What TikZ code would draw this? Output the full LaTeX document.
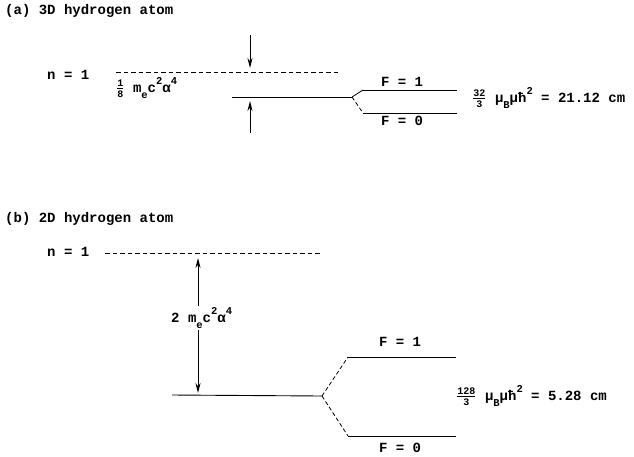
\documentclass[tikz,border=0pt]{standalone}
\usepackage{amsmath}
\usepackage{fontspec}
\setmainfont{Liberation Mono}[BoldFont={Liberation Mono Bold}]
\usetikzlibrary{arrows.meta}
\newcommand\sps[1]{\raisebox{0.55em}{\fontsize{10.5}{11}\selectfont #1}}
\newcommand\sbs[1]{\raisebox{-0.45em}{\fontsize{10.5}{11}\selectfont #1}}
\newcommand\frc[2]{$\genfrac{}{}{0.6pt}{}{\mbox{\fontsize{10}{10}\selectfont\bfseries #1}}{\mbox{\fontsize{10}{10}\selectfont\bfseries #2}}$}
\begin{document}
\begin{tikzpicture}[x=1pt,y=-1pt,
  txt/.style={inner sep=0pt,font=\fontsize{14}{16}\selectfont\bfseries},
  level/.style={line width=0.9pt},
  dlevel/.style={line width=0.9pt,dash pattern=on 4.5pt off 3pt},
  split/.style={line width=0.8pt,dash pattern=on 4pt off 2.5pt},
  arr/.style={line width=1pt,-{Stealth[length=10pt,width=5pt]}},
  darr/.style={line width=1pt,{Stealth[length=10pt,width=5pt]}-{Stealth[length=10pt,width=5pt]}}]
\useasboundingbox (0,0) rectangle (634,456);
% ---------- (a) ----------
\node[txt,anchor=west] (ta) at (5,11) {(a) 3D hydrogen atom};
\node[txt,anchor=west] (na) at (47,75) {n = 1};
\coordinate (a1) at (116,72); \coordinate (a2) at (340,72);
\draw[dlevel] (a1) -- (a2);
\node[txt,anchor=west] (la) at (116,88) {\frc{1}{8} m\sbs{e}c\sps{2}α\sps{4}};
\coordinate (g1) at (232,97); \coordinate (gs) at (352,97);
\draw[level] (g1) -- (gs);
\coordinate (ar1s) at (250,35); \coordinate (ar1e) at (250,68);
\coordinate (ar2s) at (250,133); \coordinate (ar2e) at (250,101);
\draw[arr] (ar1s) -- (ar1e);
\draw[arr] (ar2s) -- (ar2e);
\coordinate (f1a) at (363,90); \coordinate (f1b) at (457,90);
\coordinate (f0a) at (363,113); \coordinate (f0b) at (457,113);
\draw[line width=0.8pt] (gs) -- (f1a);
\draw[split] (gs) -- (f0a);
\draw[level] (f1a) -- (f1b);
\draw[level] (f0a) -- (f0b);
\node[txt] (F1a) at (402,82) {F = 1};
\node[txt] (F0a) at (402,121) {F = 0};
\node[txt,anchor=west] (ha) at (472,98) {\frc{32}{3} μ\sbs{B}μħ\sps{2} = 21.12 cm};
% ---------- (b) ----------
\node[txt,anchor=west] (tb) at (5,219) {(b) 2D hydrogen atom};
\node[txt,anchor=west] (nb) at (47,252) {n = 1};
\coordinate (b1) at (105,253); \coordinate (b2) at (322,253);
\draw[dlevel] (b1) -- (b2);
\coordinate (ba1) at (198,258); \coordinate (ba2) at (198,393);
\draw[darr] (ba1) -- (ba2);
\node[txt,fill=white,inner sep=1pt,anchor=west] (lb) at (170,318) {2 m\sbs{e}c\sps{2}α\sps{4}};
\coordinate (h1) at (172,395); \coordinate (hs) at (322,396);
\draw[level] (h1) -- (hs);
\coordinate (g1a) at (348,357); \coordinate (g1b) at (456,357);
\coordinate (g0a) at (348,436); \coordinate (g0b) at (456,436);
\draw[split] (hs) -- (g1a);
\draw[split] (hs) -- (g0a);
\draw[level] (g1a) -- (g1b);
\draw[level] (g0a) -- (g0b);
\node[txt] (F1b) at (400,342) {F = 1};
\node[txt] (F0b) at (400,448) {F = 0};
\node[txt,anchor=west] (hb) at (456,396) {\frc{128}{3} μ\sbs{B}μħ\sps{2} = 5.28 cm};
\end{tikzpicture}
\end{document}
